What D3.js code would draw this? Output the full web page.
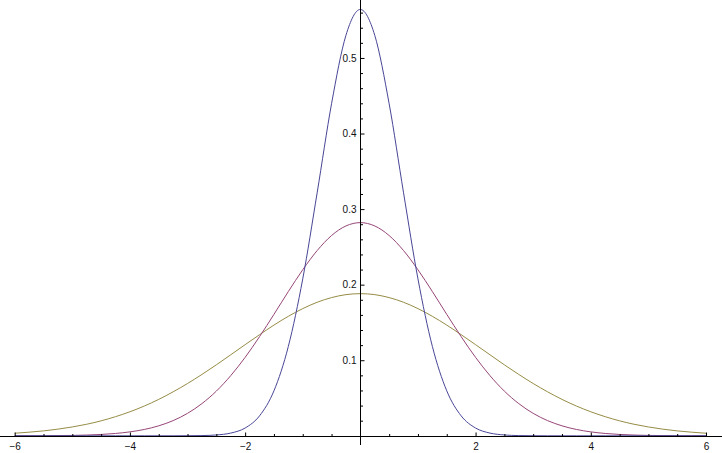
<!DOCTYPE html>
<html>
<head>
<meta charset="utf-8">
<script src="https://cdn.jsdelivr.net/npm/d3@7"></script>
<style>
  html, body { margin: 0; padding: 0; background: #fff; }
  svg { display: block; }
</style>
</head>
<body>
<svg id="chart"></svg>
<script>
// x grid (step 0.25)
const xValues = [
  -6, -5.75, -5.5, -5.25, -5, -4.75, -4.5, -4.25, -4, -3.75, -3.5, -3.25,
  -3, -2.75, -2.5, -2.25, -2, -1.75, -1.5, -1.25, -1, -0.75, -0.5, -0.25,
  0,
  0.25, 0.5, 0.75, 1, 1.25, 1.5, 1.75, 2, 2.25, 2.5, 2.75, 3,
  3.25, 3.5, 3.75, 4, 4.25, 4.5, 4.75, 5, 5.25, 5.5, 5.75, 6
]

// narrow (blue) curve
const narrowValues = [
  0, 0, 0, 0, 0, 0, 0, 0, 0, 0, 0, 0,
  0.0001, 0.0003, 0.0011, 0.0036, 0.0103, 0.0264, 0.0595, 0.1183, 0.2076, 0.3215, 0.4394, 0.5300,
  0.5642,
  0.5300, 0.4394, 0.3215, 0.2076, 0.1183, 0.0595, 0.0264, 0.0103, 0.0036, 0.0011, 0.0003, 0.0001,
  0, 0, 0, 0, 0, 0, 0, 0, 0, 0, 0, 0
]

// middle (purple) curve
const middleValues = [
  0.0000, 0.0001, 0.0001, 0.0003, 0.0005, 0.0010, 0.0018, 0.0031, 0.0052, 0.0084, 0.0132, 0.0201,
  0.0297, 0.0426, 0.0591, 0.0796, 0.1038, 0.1312, 0.1607, 0.1909, 0.2197, 0.2451, 0.2650, 0.2777,
  0.2821,
  0.2777, 0.2650, 0.2451, 0.2197, 0.1909, 0.1607, 0.1312, 0.1038, 0.0796, 0.0591, 0.0426, 0.0297,
  0.0201, 0.0132, 0.0084, 0.0052, 0.0031, 0.0018, 0.0010, 0.0005, 0.0003, 0.0001, 0.0001, 0.0000
]

// wide (olive) curve
const wideValues = [
  0.0034, 0.0048, 0.0065, 0.0088, 0.0117, 0.0153, 0.0198, 0.0253, 0.0318, 0.0394, 0.0482, 0.0582,
  0.0692, 0.0812, 0.0939, 0.1072, 0.1206, 0.1338, 0.1465, 0.1581, 0.1683, 0.1767, 0.1829, 0.1868,
  0.1881,
  0.1868, 0.1829, 0.1767, 0.1683, 0.1581, 0.1465, 0.1338, 0.1206, 0.1072, 0.0939, 0.0812, 0.0692,
  0.0582, 0.0482, 0.0394, 0.0318, 0.0253, 0.0198, 0.0153, 0.0117, 0.0088, 0.0065, 0.0048, 0.0034
]

const xTickValues = [-6, -4, -2, 2, 4, 6]
const xMinorTicks = [
  -5.5, -5, -4.5, -3.5, -3, -2.5, -1.5, -1, -0.5,
  0.5, 1, 1.5, 2.5, 3, 3.5, 4.5, 5, 5.5
]
const yTickValues = [0.1, 0.2, 0.3, 0.4, 0.5]
const yMinorTicks = [
  0.02, 0.04, 0.06, 0.08, 0.12, 0.14, 0.16, 0.18, 0.22, 0.24, 0.26, 0.28,
  0.32, 0.34, 0.36, 0.38, 0.42, 0.44, 0.46, 0.48, 0.52, 0.54, 0.56
]

const width = 722
const height = 453

const svg = d3.select('#chart')
  .attr('width', width)
  .attr('height', height)

const x = d3.scaleLinear().domain([-6, 6]).range([14.7, 706])
const y = d3.scaleLinear().domain([0, 0.5767]).range([435.8, 0])

const x0 = Math.round(x(0)) + 0.5
const y0 = Math.round(y(0)) + 0.5

// curves
const series = [
  { values: wideValues, color: 'rgb(150,140,70)' },
  { values: middleValues, color: 'rgb(150,70,120)' },
  { values: narrowValues, color: 'rgb(72,70,150)' }
]

const line = d3.line()
  .x(d => x(d[0]))
  .y(d => y(d[1]))
  .curve(d3.curveMonotoneX)

series.forEach(s => {
  svg.append('path')
    .datum(xValues.map((v, i) => [v, s.values[i]]))
    .attr('fill', 'none')
    .attr('stroke', s.color)
    .attr('stroke-width', 1)
    .attr('d', line)
})

/* X AXIS */
// axis line, full width
svg.append('line')
  .attr('x1', 0).attr('x2', width)
  .attr('y1', y0).attr('y2', y0)
  .attr('stroke', '#000')
  .attr('stroke-width', 1)

// major ticks pointing up
svg.append('g')
  .attr('transform', `translate(0,${y0})`)
  .call(d3.axisTop(x).tickValues(xTickValues).tickSize(4).tickFormat(''))
  .call(g => g.select('.domain').remove())
// minor ticks
svg.append('g')
  .attr('transform', `translate(0,${y0})`)
  .call(d3.axisTop(x).tickValues(xMinorTicks).tickSize(2.5).tickFormat(''))
  .call(g => g.select('.domain').remove())
// labels
svg.append('g')
  .attr('transform', `translate(0,${y0})`)
  .style('font-family', 'Liberation Sans, Arial, sans-serif')
  .style('font-size', '10px')
  .call(d3.axisBottom(x).tickValues(xTickValues).tickSize(0)
    .tickFormat(d => (d < 0 ? '\u2212' : '') + Math.abs(d)))
  .call(g => g.select('.domain').remove())
  .selectAll('text')
  .attr('fill', '#111')
  .attr('dy', null)
  .attr('y', 13)

/* Y AXIS */
svg.append('line')
  .attr('x1', x0).attr('x2', x0)
  .attr('y1', 0).attr('y2', 445)
  .attr('stroke', '#000')
  .attr('stroke-width', 1)

svg.append('g')
  .attr('transform', `translate(${x0},0)`)
  .call(d3.axisRight(y).tickValues(yTickValues).tickSize(4).tickFormat(''))
  .call(g => g.select('.domain').remove())
svg.append('g')
  .attr('transform', `translate(${x0},0)`)
  .call(d3.axisRight(y).tickValues(yMinorTicks).tickSize(2.5).tickFormat(''))
  .call(g => g.select('.domain').remove())
svg.append('g')
  .attr('transform', `translate(${x0},0)`)
  .style('font-family', 'Liberation Sans, Arial, sans-serif')
  .style('font-size', '10px')
  .call(d3.axisLeft(y).tickValues(yTickValues).tickSize(0).tickPadding(4)
    .tickFormat(d3.format('.1f')))
  .call(g => g.select('.domain').remove())
  .selectAll('text')
  .attr('fill', '#111')
</script>
</body>
</html>
